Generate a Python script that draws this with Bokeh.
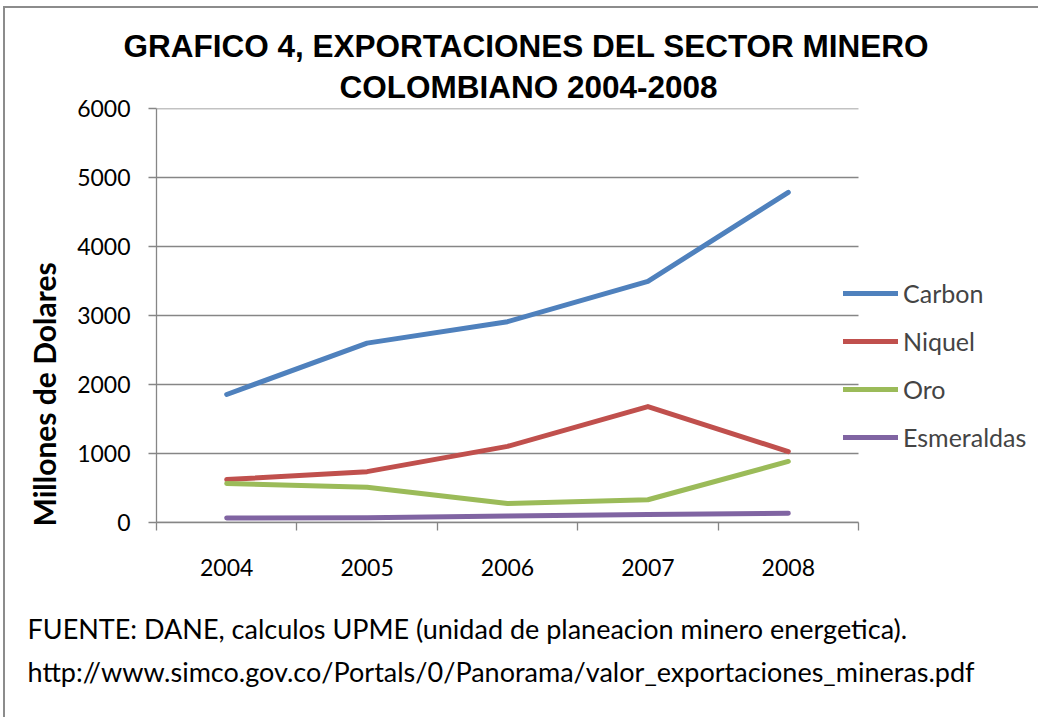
from bokeh.plotting import figure
from bokeh.models import Range1d, FixedTicker, Legend, LegendItem, Title
from bokeh.embed import file_html
from bokeh.resources import INLINE

# ---- data ----
years = ["2004", "2005", "2006", "2007", "2008"]
carbon = [1855, 2600, 2910, 3495, 4785]
niquel = [622, 737, 1103, 1680, 1028]
oro = [565, 510, 275, 330, 885]
esmeraldas = [65, 68, 95, 115, 135]
series_names = ["Carbon", "Niquel", "Oro", "Esmeraldas"]
y_ticks = [0, 1000, 2000, 3000, 4000, 5000, 6000]
title_lines = ["GRAFICO 4, EXPORTACIONES DEL SECTOR MINERO", "COLOMBIANO 2004-2008"]
y_label = "Millones de Dolares"
source_lines = ["FUENTE: DANE, calculos UPME (unidad de planeacion minero energetica).",
                "http://www.simco.gov.co/Portals/0/Panorama/valor_exportaciones_mineras.pdf"]

colors = ["#4F81BD", "#C0504D", "#9BBB59", "#8064A2"]
GRID = "#868686"
FONT = "Lato"

# layout (pixels)
W, H = 1035, 711
LEFT, TOP, BOTTOM = 151, 100, 196
DATA_W = 702          # width of the category area
frame_w = W - LEFT
n = len(years)
x_end = -0.5 + n * frame_w / DATA_W

xs = list(range(n))

p = figure(width=W, height=H, output_backend="svg", toolbar_location=None,
           x_range=Range1d(-0.5, x_end), y_range=Range1d(0, 6000),
           min_border_left=LEFT, min_border_right=0, min_border_top=TOP,
           min_border_bottom=BOTTOM)
p.styles = {"margin-left": "3px", "margin-top": "6px",
            "border-left": "2px solid #8c8c8c", "border-top": "2px solid #8c8c8c"}
p.background_fill_color = "white"
p.border_fill_color = "white"
p.outline_line_color = None
p.xgrid.visible = False
p.ygrid.visible = False

# horizontal grid lines limited to the category area
p.segment(x0=[-0.5] * len(y_ticks), x1=[n - 0.5] * len(y_ticks), y0=y_ticks, y1=y_ticks,
          line_color=GRID, line_width=1.3)

# y axis
ya = p.yaxis[0]
ya.ticker = FixedTicker(ticks=y_ticks)
ya.axis_line_color = GRID
ya.axis_line_width = 1.3
ya.major_tick_line_color = GRID
ya.major_tick_line_width = 1.3
ya.major_tick_out = 8
ya.major_tick_in = 0
ya.minor_tick_line_color = None
ya.major_label_text_font = FONT
ya.major_label_text_font_size = "23px"
ya.major_label_text_color = "black"
ya.major_label_standoff = 18

# x axis
xa = p.xaxis[0]
xa.bounds = (-0.5, n - 0.5)
xa.ticker = FixedTicker(ticks=xs, minor_ticks=[i - 0.5 for i in range(n + 1)])
xa.major_label_overrides = {i: y for i, y in enumerate(years)}
xa.axis_line_color = GRID
xa.axis_line_width = 1.3
xa.major_tick_line_color = None
xa.major_tick_out = 0
xa.major_tick_in = 0
xa.minor_tick_line_color = GRID
xa.minor_tick_line_width = 1.3
xa.minor_tick_out = 8
xa.minor_tick_in = 0
xa.major_label_text_font = FONT
xa.major_label_text_font_size = "23px"
xa.major_label_text_color = "black"
xa.major_label_standoff = 28

items = []
for name, vals, c in zip(series_names, [carbon, niquel, oro, esmeraldas], colors):
    r = p.line(xs, vals, line_color=c, line_width=5, line_cap="round", line_join="round")
    items.append(LegendItem(label=name, renderers=[r]))

legend = Legend(items=items, location=(687, 70), orientation="vertical",
                padding=0, margin=0, spacing=18, glyph_width=55, glyph_height=30,
                label_height=30, label_standoff=5,
                label_text_font=FONT, label_text_font_size="25px",
                background_fill_alpha=0, border_line_alpha=0)
p.add_layout(legend)

# title (second line nearest the frame)
p.add_layout(Title(text=title_lines[1], align="left", offset=183, standoff=7,
                   text_font="Liberation Sans", text_font_style="bold",
                   text_font_size="31.5px", text_color="black"), "above")
p.add_layout(Title(text=title_lines[0], align="left", offset=-33, standoff=0,
                   text_font="Liberation Sans", text_font_style="bold",
                   text_font_size="31.5px", text_color="black"), "above")

# y label
p.add_layout(Title(text=y_label, align="left", offset=-4, standoff=26,
                   text_font=FONT, text_font_style="bold", text_font_size="30px",
                   text_color="black"), "left")

# source (two lines in one block)
p.add_layout(Title(text="\n".join(source_lines), align="left", offset=-129, standoff=62,
                   text_font=FONT, text_font_style="normal", text_font_size="27px",
                   text_line_height=1.33, text_color="black"), "below")

open("out.html", "w").write(file_html(p, INLINE))
